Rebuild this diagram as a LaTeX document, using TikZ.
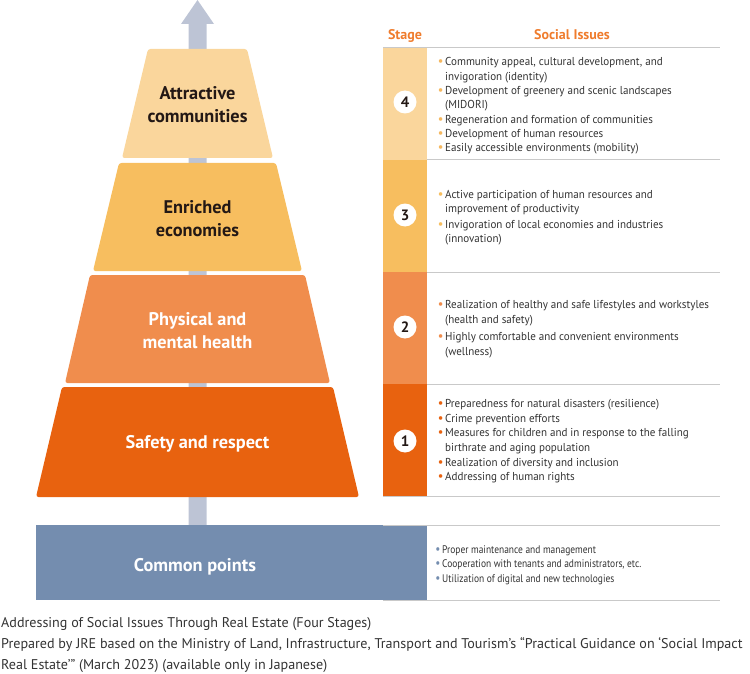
\documentclass[tikz,border=0pt]{standalone}
\usepackage{fontspec}
\setmainfont{PT Sans}
\newfontfamily\condfont[FakeStretch=0.86]{PT Sans}
\newfontfamily\bodyfont[FakeStretch=0.96]{PT Sans}
\definecolor{cfour}{HTML}{FAD69C}
\definecolor{cthree}{HTML}{F7BE5F}
\definecolor{ctwo}{HTML}{F08D4D}
\definecolor{cone}{HTML}{E8620F}
\definecolor{ccommon}{HTML}{748DAF}
\definecolor{carrow}{HTML}{BDC4D5}
\definecolor{chead}{HTML}{EF7C2D}
\definecolor{ctext}{HTML}{333333}
\definecolor{cdark}{HTML}{231815}
\definecolor{cline}{HTML}{C9C9C9}
\definecolor{bfour}{HTML}{F5B860}
\newcommand\bl[1]{\llap{\textcolor{#1}{\fontsize{13}{13}\selectfont •}\hspace{1.8pt}}}
\tikzset{
  tier/.style={rounded corners=2.5pt},
  title/.style={align=center, inner sep=0pt, font=\bfseries\fontsize{18.3}{22.4}\selectfont},
  head/.style={anchor=base, inner sep=0pt, text=chead, font=\bfseries\fontsize{14}{14}\selectfont},
  issue/.style={anchor=base west, inner sep=0pt, text=ctext, font=\bodyfont\fontsize{11.5}{13}\selectfont},
  cissue/.style={anchor=base west, inner sep=0pt, text=ctext, font=\condfont\fontsize{11}{13}\selectfont},
  caption/.style={anchor=base west, inner sep=0pt, text=ctext, font=\fontsize{14.1}{15}\selectfont},
  num/.style={circle, fill=white, minimum size=23pt, inner sep=0pt, text=cdark, font=\bfseries\fontsize{15}{15}\selectfont},
  sep/.style={draw=cline, line width=1pt}
}
\begin{document}
\begin{tikzpicture}[x=1pt,y=-1pt]
\useasboundingbox (0,0) rectangle (750,674);
% upward arrow (behind the tiers)
\fill[carrow] (188.5,525) -- (188.5,24) -- (181,24) -- (197.5,0) -- (214,24) -- (206.5,24) -- (206.5,525) -- cycle;
% tiers
\fill[cfour, tier]  (148,49) -- (247,49) -- (273,158) -- (122,158) -- cycle;
\fill[cthree, tier] (119,163) -- (276,163) -- (302,271) -- (93,271) -- cycle;
\fill[ctwo, tier]   (90,275) -- (305,275) -- (330,383) -- (65,383) -- cycle;
\fill[cone, tier]   (62,387) -- (333,387) -- (359,497) -- (36,497) -- cycle;
\node[title, text=cdark] (t4) at (197.5,104.5) {Attractive\\communities};
\node[title, text=cdark] (t3) at (197.5,218.5) {Enriched\\economies};
\node[title, text=white] (t2) at (197.5,330.5) {Physical and\\mental health};
\node[title, text=white, anchor=base] (t1) at (197.5,448.3) {Safety and respect};
% common box
\fill[ccommon] (36,525) rectangle (427,600);
\node[title, text=white, anchor=base] (t0) at (195,571) {Common points};
% table lines
\foreach \yy in {48,160,272,384,496,525,600} \draw[sep] (383,\yy) -- (720,\yy);
% stage column
\fill[cfour]  (383,48) rectangle (427,160);
\fill[cthree] (383,160) rectangle (427,272);
\fill[ctwo]   (383,272) rectangle (427,384);
\fill[cone]   (383,384) rectangle (427,496);
\node[num] (n4) at (405,102) {4};
\node[num] (n3) at (405,215) {3};
\node[num] (n2) at (405,327) {2};
\node[num] (n1) at (405,441) {1};
% headers
\node[head] (hs) at (405,40) {Stage};
\node[head] (hi) at (572,40) {Social Issues};
% stage 4
\node[issue] (s4a) at (445,66)    {\bl{bfour}Community appeal, cultural development, and};
\node[issue] (s4b) at (445,80.3)  {invigoration (identity)};
\node[issue] (s4c) at (445,94.6)  {\bl{bfour}Development of greenery and scenic landscapes};
\node[issue] (s4d) at (445,108.9) {(MIDORI)};
\node[issue] (s4e) at (445,123.2) {\bl{bfour}Regeneration and formation of communities};
\node[issue] (s4f) at (445,137.5) {\bl{bfour}Development of human resources};
\node[issue] (s4g) at (445,151.8) {\bl{bfour}Easily accessible environments (mobility)};
% stage 3
\node[issue] (s3a) at (445,198.7) {\bl{cthree}Active participation of human resources and};
\node[issue] (s3b) at (445,212.5) {improvement of productivity};
\node[issue] (s3c) at (445,228.3) {\bl{cthree}Invigoration of local economies and industries};
\node[issue] (s3d) at (445,242.3) {(innovation)};
% stage 2
\node[issue] (s2a) at (445,308.3) {\bl{ctwo}Realization of healthy and safe lifestyles and workstyles};
\node[issue] (s2b) at (445,323)   {(health and safety)};
\node[issue] (s2c) at (445,340.5) {\bl{ctwo}Highly comfortable and convenient environments};
\node[issue] (s2d) at (445,355)   {(wellness)};
% stage 1
\node[issue] (s1a) at (445,407.7) {\bl{cone}Preparedness for natural disasters (resilience)};
\node[issue] (s1b) at (445,422.3) {\bl{cone}Crime prevention efforts};
\node[issue] (s1c) at (445,436.9) {\bl{cone}Measures for children and in response to the falling};
\node[issue] (s1d) at (445,451.5) {birthrate and aging population};
\node[issue] (s1e) at (445,466.1) {\bl{cone}Realization of diversity and inclusion};
\node[issue] (s1f) at (445,480.7) {\bl{cone}Addressing of human rights};
% common
\node[cissue] (c1) at (442,553)   {\bl{ccommon}Proper maintenance and management};
\node[cissue] (c2) at (442,567.5) {\bl{ccommon}Cooperation with tenants and administrators, etc.};
\node[cissue] (c3) at (442,582)   {\bl{ccommon}Utilization of digital and new technologies};
% caption
\node[caption] (cap1) at (1,627) {Addressing of Social Issues Through Real Estate (Four Stages)};
\node[caption] (cap2) at (1,648) {Prepared by JRE based on the Ministry of Land, Infrastructure, Transport and Tourism’s “Practical Guidance on ‘Social Impact};
\node[caption] (cap3) at (1,669) {Real Estate’” (March 2023) (available only in Japanese)};
\end{tikzpicture}
\end{document}
